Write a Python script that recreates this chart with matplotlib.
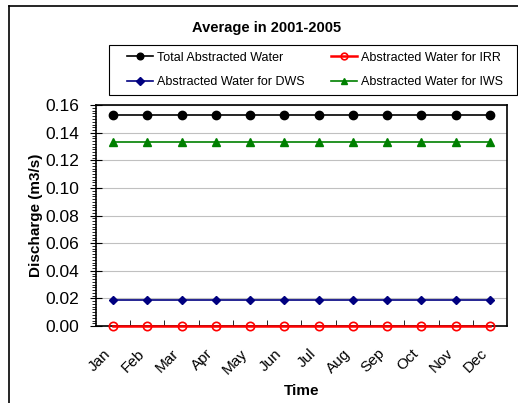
import matplotlib.pyplot as plt
import matplotlib.transforms as mtransforms
from matplotlib.patches import Rectangle
from matplotlib.ticker import MultipleLocator, FixedLocator

months = ["Jan", "Feb", "Mar", "Apr", "May", "Jun",
          "Jul", "Aug", "Sep", "Oct", "Nov", "Dec"]
total = [0.153] * 12
irr = [0.0] * 12
dws = [0.019] * 12
iws = [0.133] * 12

plt.rcParams["font.family"] = ["Liberation Sans", "DejaVu Sans"]

fig = plt.figure(figsize=(5.18, 4.03), dpi=100)
ax = fig.add_axes([0.185, 0.191, 0.794, 0.548])

x = list(range(len(months)))

h_total, = ax.plot(x, total, color="black", marker="o", markersize=6,
                   lw=1.2, label="Total Abstracted Water", zorder=4)
h_irr, = ax.plot(x, irr, color="red", marker="o", markersize=6, mfc="none",
                 mew=1.2, lw=1.8, label="Abstracted Water for IRR", zorder=5,
                 clip_on=False)
h_dws, = ax.plot(x, dws, color="#000080", marker="D", markersize=4.5,
                 lw=1.2, label="Abstracted Water for DWS", zorder=4)
h_iws, = ax.plot(x, iws, color="#008000", marker="^", markersize=6, lw=1.2,
                 label="Abstracted Water for IWS", zorder=4)

ax.set_xlim(-0.5, 11.5)
ax.set_ylim(0, 0.16)
ax.yaxis.set_major_locator(MultipleLocator(0.02))
ax.yaxis.set_minor_locator(MultipleLocator(0.002))
ax.yaxis.set_major_formatter(plt.FuncFormatter(lambda v, p: f"{v:.2f}"))
ax.set_xticks(x)
ax.set_xticklabels(months, rotation=45, ha="right", rotation_mode="anchor")
ax.xaxis.set_minor_locator(FixedLocator([i + 0.5 for i in range(11)]))
ax.tick_params(axis="x", which="major", length=0, labelsize=11, pad=6)
ax.tick_params(axis="x", which="minor", direction="in", length=4)
ax.tick_params(axis="y", which="major", direction="inout", length=8,
               labelsize=12.5, pad=8)
ax.tick_params(axis="y", which="minor", direction="out", length=3)
ax.grid(axis="y", color="#c0c0c0", lw=0.8)
ax.set_axisbelow(True)

# nudge the rotated month labels down and left
shift = mtransforms.ScaledTranslation(-0.10, -0.12, fig.dpi_scale_trans)
for lbl in ax.get_xticklabels():
    lbl.set_transform(lbl.get_transform() + shift)

for s in ax.spines.values():
    s.set_linewidth(1.2)

ax.set_xlabel("Time", fontsize=11, fontweight="bold", labelpad=5)
ax.set_ylabel("Discharge (m3/s)", fontsize=11, fontweight="bold",
              labelpad=2)

fig.text(0.515, 0.93, "Average in 2001-2005", ha="center", va="center",
         fontsize=10.5, fontweight="bold")

leg = fig.legend(handles=[h_total, h_dws, h_irr, h_iws],
                 loc="center", bbox_to_anchor=(0.245, 0.764, 0.726, 0.124),
                 mode="expand", ncol=2, fontsize=9, frameon=False,
                 handlelength=2.1, borderpad=0, borderaxespad=0,
                 handletextpad=0.3, labelspacing=1.0, markerscale=0.8)

# legend frame
fig.add_artist(Rectangle((109 / 518, 1 - 95 / 403), 408 / 518, 50 / 403,
                         transform=fig.transFigure, fill=False,
                         edgecolor="black", lw=0.8))

# outer chart frame
fig.add_artist(plt.Line2D([0.018, 0.018], [0, 0.985], color="black", lw=1.2))
fig.add_artist(plt.Line2D([0.018, 1.0], [0.985, 0.985], color="black", lw=1.2))

fig.savefig("out.png", dpi=100)
